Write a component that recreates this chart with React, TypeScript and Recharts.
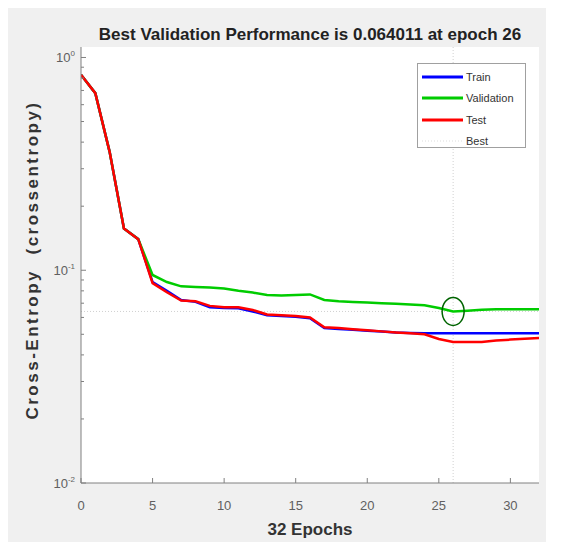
import React from "react";
import {
  Line,
  LineChart,
  ReferenceDot,
  ReferenceLine,
  XAxis,
  YAxis,
} from "recharts";

const epochs = [
  0, 1, 2, 3, 4, 5, 6, 7, 8, 9, 10, 11, 12, 13, 14, 15, 16, 17, 18, 19, 20, 21,
  22, 23, 24, 25, 26, 27, 28, 29, 30, 31, 32,
];
const trainLoss = [
  0.83, 0.68, 0.36, 0.157, 0.14, 0.088, 0.08, 0.0725, 0.071, 0.067, 0.0665,
  0.0662, 0.064, 0.0615, 0.061, 0.0605, 0.0595, 0.0535, 0.053, 0.0525, 0.052,
  0.0515, 0.051, 0.0507, 0.0505, 0.0505, 0.0505, 0.0505, 0.0505, 0.0505, 0.0505,
  0.0505, 0.0505,
];
const validationLoss = [
  0.83, 0.68, 0.36, 0.157, 0.14, 0.095, 0.088, 0.084, 0.0835, 0.083, 0.082,
  0.08, 0.0785, 0.0765, 0.076, 0.0765, 0.077, 0.0725, 0.0715, 0.071, 0.0705,
  0.07, 0.0695, 0.069, 0.0685, 0.0665, 0.064011, 0.0645, 0.0652, 0.0655,
  0.0655, 0.0656, 0.0656,
];
const testLoss = [
  0.83, 0.68, 0.36, 0.157, 0.14, 0.087, 0.0788, 0.072, 0.0715, 0.068, 0.067,
  0.067, 0.065, 0.062, 0.0615, 0.061, 0.06, 0.054, 0.0535, 0.0528, 0.0522,
  0.0516, 0.051, 0.0505, 0.05, 0.0475, 0.046, 0.046, 0.046, 0.0468, 0.0472,
  0.0476, 0.048,
];
const bestEpoch = 26;
const bestValue = 0.064011;
const xTicks = [0, 5, 10, 15, 20, 25, 30];
const decadeTicks = [0.01, 0.1, 1];
const minorTicks = [
  0.02, 0.03, 0.04, 0.05, 0.06, 0.07, 0.08, 0.09, 0.2, 0.3, 0.4, 0.5, 0.6, 0.7,
  0.8, 0.9,
];

const data = epochs.map((epoch, i) => ({
  epoch,
  train: trainLoss[i],
  validation: validationLoss[i],
  test: testLoss[i],
}));

const FONT = "'Liberation Sans', Arial, Helvetica, sans-serif";
const PLOT_LEFT = 74;
const PLOT_BOTTOM = 475;
const AXIS_COLOR = "#808080";

const YTick = (props: any) => {
  const { y, payload } = props;
  const v = payload.value;
  const major = decadeTicks.some((d) => Math.abs(d - v) < 1e-9);
  const exp = Math.round(Math.log10(v));
  return (
    <g>
      <line
        x1={PLOT_LEFT}
        x2={PLOT_LEFT + (major ? 5 : 3)}
        y1={y}
        y2={y}
        stroke={AXIS_COLOR}
        strokeWidth={1}
      />
      {major && (
        <text
          x={PLOT_LEFT - 6}
          y={y + 5}
          textAnchor="end"
          fill="#606060"
          fontSize={13}
          fontFamily={FONT}
        >
          <tspan>10</tspan>
          <tspan dy={-6} fontSize={8}>
            {exp}
          </tspan>
        </text>
      )}
    </g>
  );
};

const XTick = (props: any) => {
  const { x, payload } = props;
  return (
    <g>
      <line
        x1={x}
        x2={x}
        y1={PLOT_BOTTOM}
        y2={PLOT_BOTTOM - 5}
        stroke={AXIS_COLOR}
        strokeWidth={1}
      />
      <text
        x={x}
        y={PLOT_BOTTOM + 27}
        textAnchor="middle"
        fill="#606060"
        fontSize={13}
        fontFamily={FONT}
      >
        {payload.value}
      </text>
    </g>
  );
};

const legendItems = [
  { name: "Train", color: "#0000ff" },
  { name: "Validation", color: "#00cc00" },
  { name: "Test", color: "#ff0000" },
  { name: "Best", color: "#dddddd", dotted: true },
];

const LegendBox = () => (
  <div
    style={{
      position: "absolute",
      left: 410,
      top: 55,
      width: 109,
      height: 85,
      background: "#fff",
      border: "1px solid #a0a0a0",
      fontFamily: FONT,
      fontSize: 11,
      color: "#333",
      paddingTop: 2,
      boxSizing: "border-box",
    }}
  >
    {legendItems.map((it) => (
      <div
        key={it.name}
        style={{ display: "flex", alignItems: "center", height: 21.5 }}
      >
        <svg width={48} height={10}>
          <line
            x1={4}
            x2={45}
            y1={5}
            y2={5}
            stroke={it.color}
            strokeWidth={it.dotted ? 1 : 3}
            strokeDasharray={it.dotted ? "1 2" : undefined}
          />
        </svg>
        <span>{it.name}</span>
      </div>
    ))}
  </div>
);

const BestCircle = (props: any) => {
  const { cx, cy } = props;
  return (
    <ellipse
      cx={cx}
      cy={cy}
      rx={11}
      ry={14}
      fill="none"
      stroke="#006400"
      strokeWidth={1.5}
    />
  );
};

export default function App() {
  return (
    <div
      style={{
        position: "relative",
        width: 539,
        height: 534,
        marginLeft: -1,
        background: "#f0f0f0",
        fontFamily: FONT,
      }}
    >
      <div
        style={{
          position: "absolute",
          left: 0,
          width: 606,
          top: 17,
          textAlign: "center",
          fontWeight: "bold",
          fontSize: 17,
          color: "#222",
        }}
      >
        Best Validation Performance is 0.064011 at epoch 26
      </div>
      <div
        style={{
          position: "absolute",
          left: 0,
          width: 606,
          top: 512,
          textAlign: "center",
          fontWeight: "bold",
          fontSize: 17,
          color: "#333",
        }}
      >
        32 Epochs
      </div>
      <div
        style={{
          position: "absolute",
          left: 26 - 200,
          top: 252 - 10,
          width: 400,
          height: 20,
          lineHeight: "20px",
          textAlign: "center",
          fontWeight: "bold",
          fontSize: 17,
          letterSpacing: 2.5,
          color: "#333",
          transform: "rotate(-90deg)",
          whiteSpace: "pre",
        }}
      >
        {"Cross-Entropy  (crossentropy)"}
      </div>
      <LineChart
        width={539}
        height={534}
        data={data}
        margin={{ top: 39, right: 7, left: 0, bottom: 0 }}
        style={{ position: "absolute", left: 0, top: 0 }}
      >
        <rect x={PLOT_LEFT} y={39} width={458} height={436} fill="#fff" />
        <XAxis
          dataKey="epoch"
          type="number"
          domain={[0, 32]}
          ticks={xTicks}
          height={59}
          stroke={AXIS_COLOR}
          tickLine={false}
          tick={<XTick />}
          allowDataOverflow
        />
        <YAxis
          type="number"
          scale="log"
          domain={[0.01, 1.12]}
          ticks={[...decadeTicks, ...minorTicks]}
          width={74}
          stroke={AXIS_COLOR}
          tickLine={false}
          tick={<YTick />}
          interval={0}
          allowDataOverflow
        />
        <ReferenceLine
          y={bestValue}
          stroke="#d0d0d0"
          strokeDasharray="1 2"
        />
        <ReferenceLine
          x={bestEpoch}
          stroke="#d0d0d0"
          strokeDasharray="1 2"
        />
        <Line
          dataKey="train"
          stroke="#0000ff"
          strokeWidth={2.5}
          dot={false}
          isAnimationActive={false}
        />
        <Line
          dataKey="validation"
          stroke="#00cc00"
          strokeWidth={2.5}
          dot={false}
          isAnimationActive={false}
        />
        <Line
          dataKey="test"
          stroke="#ff0000"
          strokeWidth={2.5}
          dot={false}
          isAnimationActive={false}
        />
        <ReferenceDot
          x={bestEpoch}
          y={bestValue}
          shape={<BestCircle />}
        />
      </LineChart>
      <LegendBox />
    </div>
  );
}
